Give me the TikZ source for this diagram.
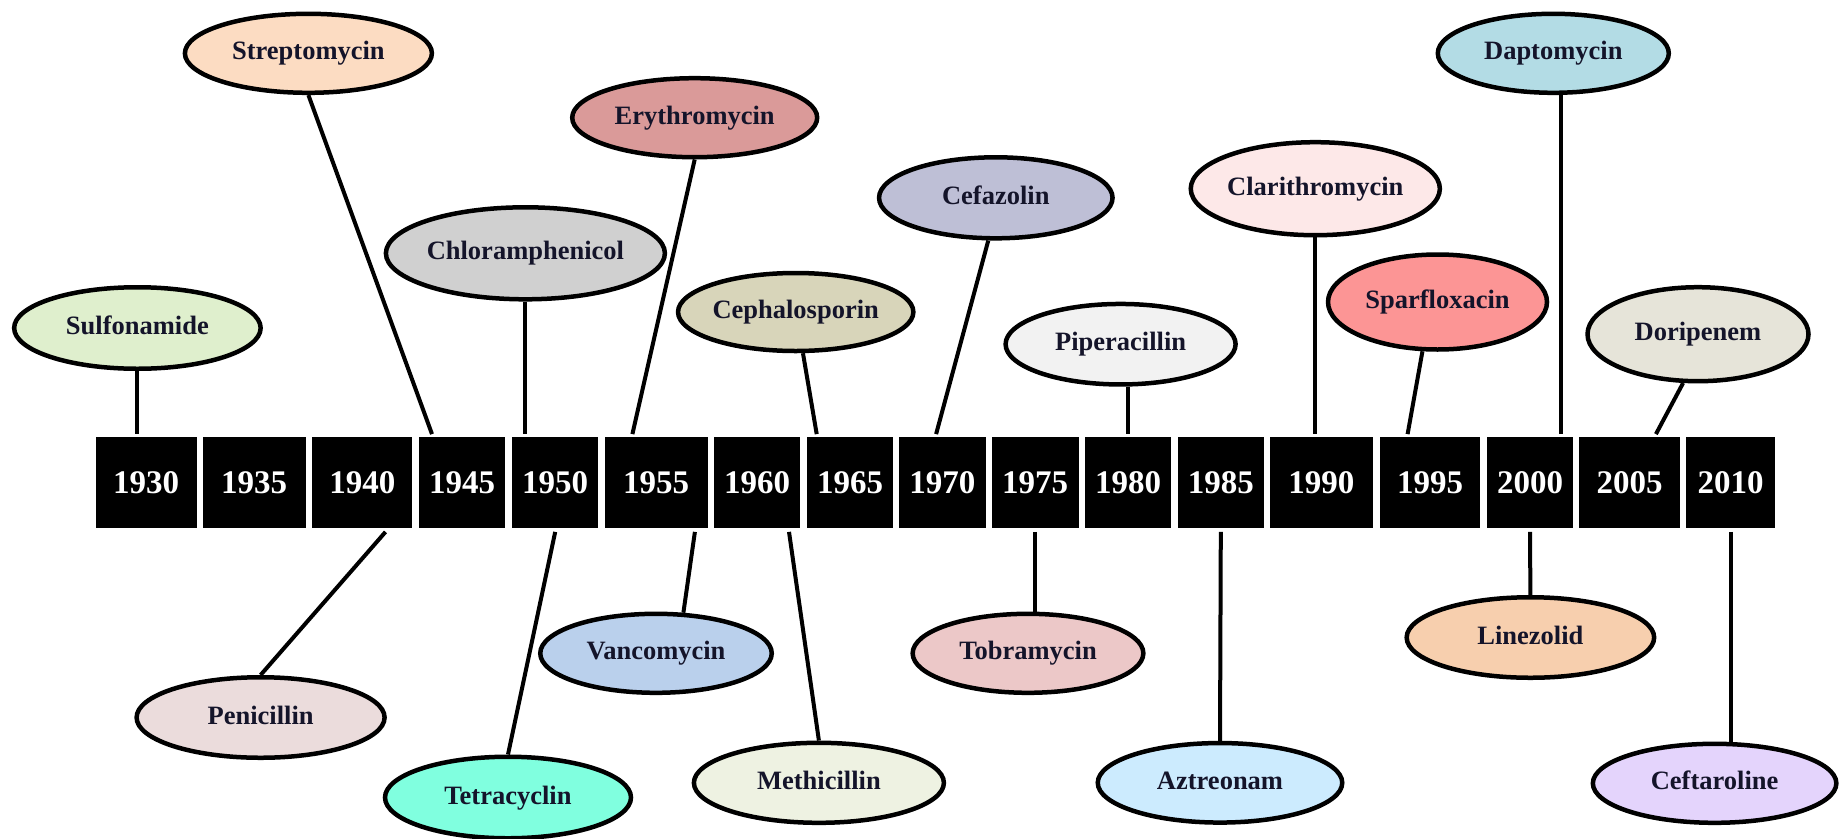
\documentclass[tikz,border=0pt]{standalone}
\usepackage{fontspec}
\setmainfont{Liberation Serif}
\usetikzlibrary{shapes.geometric}
\definecolor{labelc}{HTML}{14142A}
\definecolor{cStrep}{HTML}{FCDCC2}
\definecolor{cSulf}{HTML}{DFEFCD}
\definecolor{cChlor}{HTML}{D0D0D0}
\definecolor{cEry}{HTML}{DA9A99}
\definecolor{cCeph}{HTML}{D8D5BA}
\definecolor{cCefa}{HTML}{BEBFD6}
\definecolor{cPip}{HTML}{F2F2F2}
\definecolor{cClar}{HTML}{FDE8E8}
\definecolor{cDap}{HTML}{B3DCE5}
\definecolor{cSpar}{HTML}{FC9595}
\definecolor{cDori}{HTML}{E6E4D9}
\definecolor{cPen}{HTML}{EBDCDC}
\definecolor{cTet}{HTML}{80FFDF}
\definecolor{cVan}{HTML}{BAD0EC}
\definecolor{cMeth}{HTML}{EEF2E2}
\definecolor{cTob}{HTML}{ECC8C8}
\definecolor{cAzt}{HTML}{CCEBFE}
\definecolor{cLin}{HTML}{F7CFAE}
\definecolor{cCeft}{HTML}{E4D4FC}
\begin{document}
\begin{tikzpicture}[x=1pt,y=-1pt,
  ell/.style={ellipse, draw=black, line width=4.5pt, inner sep=0pt,
    text height=18.5pt, text depth=5.5pt,
    font=\bfseries\fontsize{26.5}{30}\selectfont, text=labelc},
  yr/.style={fill=black, draw=none, inner sep=0pt, minimum height=90.4pt,
    text=white, font=\bfseries\fontsize{33}{36}\selectfont},
  conn/.style={line width=4pt}]
\useasboundingbox (0,0) rectangle (1846,838);
\fill[white] (0,0) rectangle (1846,838);

% year boxes
\node[yr, minimum width=100.8pt] (y1930) at (146.1,482.5) {1930};
\node[yr, minimum width=102.9pt] (y1935) at (254.2,482.5) {1935};
\node[yr, minimum width=100.0pt] (y1940) at (362.4,482.5) {1940};
\node[yr, minimum width=86.2pt]  (y1945) at (462.2,482.5) {1945};
\node[yr, minimum width=86.2pt]  (y1950) at (555.2,482.5) {1950};
\node[yr, minimum width=102.9pt] (y1955) at (656.2,482.5) {1955};
\node[yr, minimum width=86.2pt]  (y1960) at (757.0,482.5) {1960};
\node[yr, minimum width=86.6pt]  (y1965) at (850.1,482.5) {1965};
\node[yr, minimum width=86.2pt]  (y1970) at (942.4,482.5) {1970};
\node[yr, minimum width=86.6pt]  (y1975) at (1035.2,482.5) {1975};
\node[yr, minimum width=86.6pt]  (y1980) at (1128.1,482.5) {1980};
\node[yr, minimum width=86.2pt]  (y1985) at (1220.8,482.5) {1985};
\node[yr, minimum width=103.0pt] (y1990) at (1321.4,482.5) {1990};
\node[yr, minimum width=100.6pt] (y1995) at (1430.0,482.5) {1995};
\node[yr, minimum width=86.6pt]  (y2000) at (1530.0,482.5) {2000};
\node[yr, minimum width=100.6pt] (y2005) at (1629.6,482.5) {2005};
\node[yr, minimum width=88.6pt]  (y2010) at (1730.6,482.5) {2010};

% top ellipses
\node[ell, fill=cSulf,  minimum width=246.5pt, minimum height=81.5pt] (sulf)  at (137.4,328) {Sulfonamide};
\node[ell, fill=cStrep, minimum width=247pt,   minimum height=79pt]   (strep) at (308.4,53.3) {Streptomycin};
\node[ell, fill=cChlor, minimum width=247.5pt, minimum height=92pt]   (chlor) at (525.4,253.3) {Chloramphenicol};
\node[ell, fill=cEry,   minimum width=245pt,   minimum height=79pt]   (ery)   at (694.7,117.7) {Erythromycin};
\node[ell, fill=cCeph,  minimum width=232.7pt, minimum height=78pt]   (ceph)  at (795.7,312) {Cephalosporin};
\node[ell, fill=cCefa,  minimum width=233.5pt, minimum height=81pt]   (cefa)  at (995.8,197.8) {Cefazolin};
\node[ell, fill=cPip,   minimum width=230pt,   minimum height=80.5pt] (pip)   at (1120.6,344.2) {Piperacillin};
\node[ell, fill=cClar,  minimum width=248pt,   minimum height=93pt]   (clar)  at (1315.3,188.7) {Clarithromycin};
\node[ell, fill=cSpar,  minimum width=219pt,   minimum height=95pt]   (spar)  at (1437.5,302) {Sparfloxacin};
\node[ell, fill=cDap,   minimum width=231pt,   minimum height=79pt]   (dap)   at (1553.3,53.3) {Daptomycin};
\node[ell, fill=cDori,  minimum width=221pt,   minimum height=94pt]   (dori)  at (1698,334.2) {Doripenem};

% bottom ellipses
\node[ell, fill=cPen,  minimum width=248pt,   minimum height=80.5pt] (pen)  at (260.6,717.5) {Penicillin};
\node[ell, fill=cTet,  minimum width=246pt,   minimum height=81.5pt] (tet)  at (508,797.5) {Tetracyclin};
\node[ell, fill=cVan,  minimum width=231.5pt, minimum height=79pt]   (van)  at (656,653.3) {Vancomycin};
\node[ell, fill=cMeth, minimum width=250pt,   minimum height=80pt]   (meth) at (818.9,782.8) {Methicillin};
\node[ell, fill=cTob,  minimum width=230.7pt, minimum height=79pt]   (tob)  at (1028,653.3) {Tobramycin};
\node[ell, fill=cAzt,  minimum width=244.5pt, minimum height=79.5pt] (azt)  at (1220,782.8) {Aztreonam};
\node[ell, fill=cLin,  minimum width=247.5pt, minimum height=80.5pt] (lin)  at (1530.4,637.5) {Linezolid};
\node[ell, fill=cCeft, minimum width=243.5pt, minimum height=79pt]   (ceft) at (1714.6,783.3) {Ceftaroline};

% top connectors
\draw[conn] (sulf.south) -- ([yshift=3pt]y1930.north -| sulf.south);
\draw[conn] (strep.south) -- ([xshift=-30.2pt,yshift=3pt]y1945.north);
\draw[conn] (chlor.south) -- ([yshift=3pt]y1950.north -| chlor.south);
\draw[conn] (ery.south) -- ([xshift=-23.8pt,yshift=3pt]y1955.north);
\draw[conn] (ceph.-80) -- ([xshift=-33.4pt,yshift=3pt]y1965.north);
\draw[conn] (cefa.-100) -- ([xshift=-6.3pt,yshift=3pt]y1970.north);
\draw[conn] (pip.-80) -- ([yshift=3pt]y1980.north -| pip.-80);
\draw[conn] (clar.south) -- ([yshift=3pt]y1990.north -| clar.south);
\draw[conn] (spar.-107) -- ([xshift=-22.4pt,yshift=3pt]y1995.north);
\draw[conn] (dap.-80) -- ([yshift=3pt]y2000.north -| dap.-80);
\draw[conn] (dori.-107) -- ([xshift=26.3pt,yshift=3pt]y2005.north);

% bottom connectors
\draw[conn] ([xshift=23.1pt,yshift=-4pt]y1940.south) -- (pen.north);
\draw[conn] ([yshift=-4pt]y1950.south) -- (tet.north);
\draw[conn] ([xshift=38.7pt,yshift=-4pt]y1955.south) -- (van.56);
\draw[conn] ([xshift=32pt,yshift=-4pt]y1960.south) -- (meth.north);
\draw[conn] ([yshift=-4pt]y1975.south) -- (tob.north -| y1975.south);
\draw[conn] ([yshift=-4pt]y1985.south) -- (azt.north);
\draw[conn] ([yshift=-4pt]y2000.south) -- (lin.north);
\draw[conn] ([yshift=-4pt]y2010.south) -- (ceft.north -| y2010.south);
\end{tikzpicture}
\end{document}
